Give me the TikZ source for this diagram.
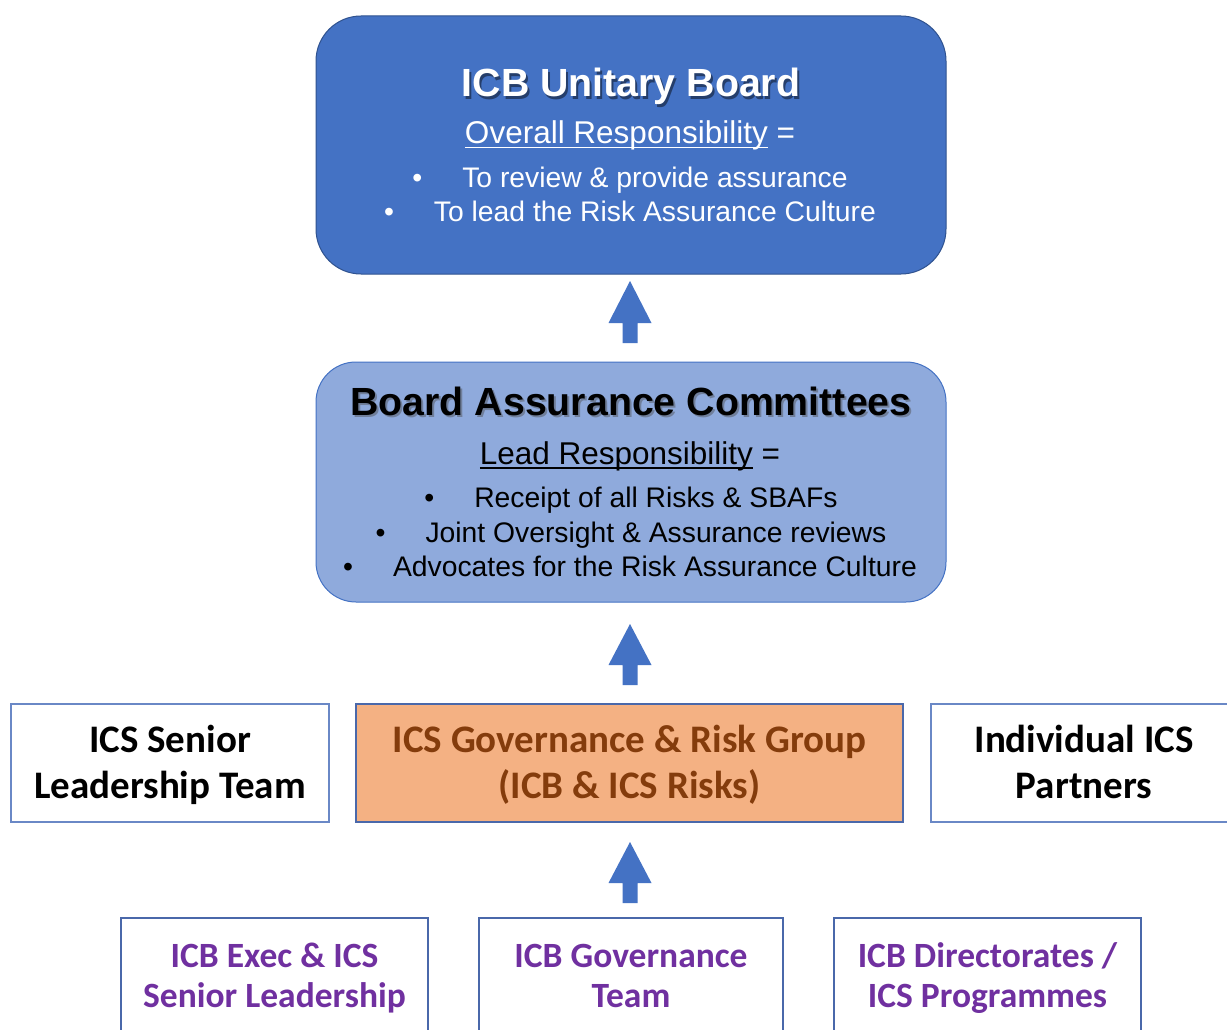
\documentclass[tikz,border=0pt]{standalone}
\usepackage{fontspec}
\setmainfont{Liberation Sans}
\newfontfamily\calibfont{Carlito}
\definecolor{topblue}{HTML}{4472C4}
\definecolor{topborder}{HTML}{2F528F}
\definecolor{midblue}{HTML}{8FAADC}
\definecolor{orangef}{HTML}{F4B183}
\definecolor{brownt}{HTML}{843C0C}
\definecolor{purplet}{HTML}{7030A0}
\definecolor{boxline}{HTML}{6A88C6}
\definecolor{boxdark}{HTML}{4A68AA}
\newcommand{\myul}[1]{\setbox0\hbox{#1}\rlap{\rule[-4.5pt]{\wd0}{1.4pt}}\box0\relax}
\begin{document}
\begin{tikzpicture}[x=1pt,y=-1pt,
  txt/.style={anchor=base, inner sep=0pt},
  titlef/.style={font=\fontsize{39.3}{39}\selectfont\bfseries},
  subf/.style={font=\fontsize{31.5}{31.5}\selectfont},
  bulf/.style={font=\fontsize{28.3}{28}\selectfont},
  calf/.style={font=\fontsize{39}{39}\calibfont\bfseries},
  calsf/.style={font=\fontsize{35.5}{35.5}\calibfont\bfseries},
  plainbox/.style={draw=boxline, line width=1.5pt, fill=white, inner sep=0pt},
  lowbox/.style={draw=boxdark, line width=1.4pt, fill=white, inner sep=0pt},
  shadowtxt/.style={txt, opacity=0.45}
]
\useasboundingbox (0,0) rectangle (1227,1030);
\fill[white] (0,0) rectangle (1227,1030);

% ---------- top box ----------
\node[draw=topborder, line width=1pt, fill=topblue, rounded corners=45pt,
      minimum width=630pt, minimum height=258pt, inner sep=0pt] (board) at (631,145) {};
\node[shadowtxt, titlef, black] (boardtitles) at (633,99.5) {ICB Unitary Board};
\node[txt, titlef, white] (boardtitle) at (631,97) {ICB Unitary Board};
\node[txt, subf, white] (boardsub) at (630,144) {\myul{Overall Responsibility} =};
\node[txt, bulf, white] (boardb1) at (630,188) {\textbullet\hspace{40pt}To review \& provide assurance};
\node[txt, bulf, white] (boardb2) at (630,222) {\textbullet\hspace{40pt}To lead the Risk Assurance Culture};

% ---------- arrow 1 ----------
\coordinate (a1b) at (630,343);
\coordinate (a1t) at (630,281);
\fill[topblue] (a1b) ++(-7.5,0) -- ++(0,-20) -- ++(-14,0) -- (a1t) -- ++(21.5,42) -- ++(-14,0) -- ++(0,20) -- cycle;

% ---------- middle box ----------
\node[draw=topblue, line width=1pt, fill=midblue, rounded corners=40pt,
      minimum width=630pt, minimum height=240pt, inner sep=0pt] (bac) at (631,482) {};
\node[shadowtxt, titlef, black!70] (bactitles) at (633,417.5) {Board Assurance Committees};
\node[txt, titlef, black] (bactitle) at (631,415) {Board Assurance Committees};
\node[txt, subf, black] (bacsub) at (630,464) {\myul{Lead Responsibility} =};
\node[txt, bulf, black] (bacb1) at (631,507) {\textbullet\hspace{40pt}Receipt of all Risks \& SBAFs};
\node[txt, bulf, black] (bacb2) at (631,542) {\textbullet\hspace{40pt}Joint Oversight \& Assurance reviews};
\node[txt, bulf, black] (bacb3) at (630,576) {\textbullet\hspace{40pt}Advocates for the Risk Assurance Culture};

% ---------- arrow 2 ----------
\coordinate (a2b) at (630,685);
\coordinate (a2t) at (630,624);
\fill[topblue] (a2b) ++(-7.5,0) -- ++(0,-20) -- ++(-14,0) -- (a2t) -- ++(21.5,41) -- ++(-14,0) -- ++(0,20) -- cycle;

% ---------- row 3 ----------
\node[plainbox, minimum width=318pt, minimum height=118pt] (slt) at (170,763) {};
\node[txt, calf, black] (slt1) at (170,752) {ICS Senior};
\node[txt, calf, black] (slt2) at (170,798) {Leadership Team};

\node[draw=boxdark, line width=2.2pt, fill=orangef, inner sep=0pt,
      minimum width=547pt, minimum height=118pt] (grg) at (629.5,763) {};
\node[txt, calf, brownt] (grg1) at (629.5,752) {ICS Governance \& Risk Group};
\node[txt, calf, brownt] (grg2) at (629.5,798) {(ICB \& ICS Risks)};

\node[plainbox, minimum width=310pt, minimum height=118pt] (partners) at (1086,763) {};
\node[txt, calf, black] (partners1) at (1084,752) {Individual ICS};
\node[txt, calf, black] (partners2) at (1084,798) {Partners};

% ---------- arrow 3 ----------
\coordinate (a3b) at (630,903);
\coordinate (a3t) at (630,842);
\fill[topblue] (a3b) ++(-7.5,0) -- ++(0,-20) -- ++(-14,0) -- (a3t) -- ++(21.5,41) -- ++(-14,0) -- ++(0,20) -- cycle;

% ---------- row 4 ----------
\node[lowbox, minimum width=307pt, minimum height=140pt] (exec) at (274.5,988) {};
\node[txt, calsf, purplet] (exec1) at (274.5,967) {ICB Exec \& ICS};
\node[txt, calsf, purplet] (exec2) at (274.5,1007) {Senior Leadership};

\node[lowbox, minimum width=304pt, minimum height=140pt] (gov) at (631,988) {};
\node[txt, calsf, purplet] (gov1) at (631,967) {ICB Governance};
\node[txt, calsf, purplet] (gov2) at (631,1007) {Team};

\node[lowbox, minimum width=307pt, minimum height=140pt] (dir) at (987.5,988) {};
\node[txt, calsf, purplet] (dir1) at (987.5,967) {ICB Directorates /};
\node[txt, calsf, purplet] (dir2) at (987.5,1007) {ICS Programmes};
\end{tikzpicture}
\end{document}
